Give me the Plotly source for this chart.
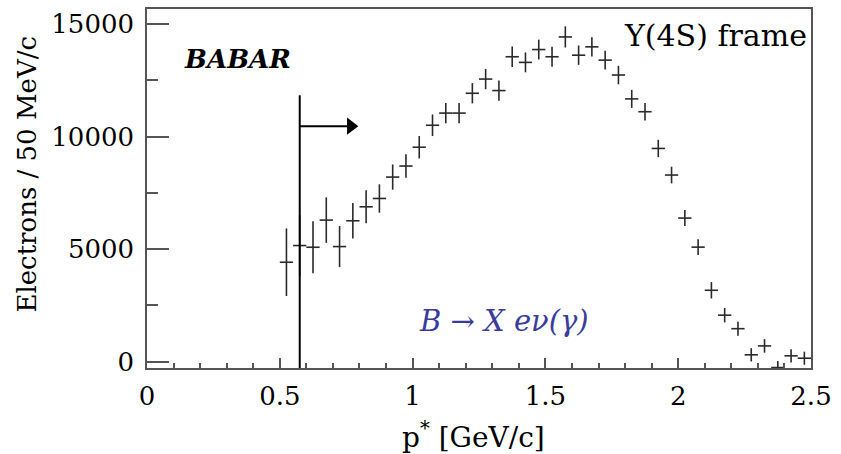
import plotly.graph_objects as go

# ---- data ----
p_star = [0.525, 0.575, 0.625, 0.675, 0.725, 0.775, 0.825, 0.875, 0.925, 0.975,
          1.025, 1.075, 1.125, 1.175, 1.225, 1.275, 1.325, 1.375, 1.425, 1.475,
          1.525, 1.575, 1.625, 1.675, 1.725, 1.775, 1.825, 1.875, 1.925, 1.975,
          2.025, 2.075, 2.125, 2.175, 2.225, 2.275, 2.325, 2.375, 2.425, 2.475]
electrons = [4420, 5160, 5085, 6290, 5115, 6260, 6880, 7250, 8200, 8690,
             9525, 10500, 11040, 11040, 11920, 12550, 12040, 13540, 13290, 13860,
             13540, 14420, 13610, 13980, 13390, 12730, 11670, 11100, 9470, 8290,
             6380, 5090, 3175, 2070, 1470, 310, 705, -255, 265, 160]
electron_err = [1500, 1360, 1150, 1010, 910, 790, 730, 630, 560, 520,
                500, 480, 450, 450, 450, 450, 450, 450, 440, 440,
                440, 470, 430, 430, 420, 410, 400, 390, 385, 370,
                355, 345, 365, 320, 310, 295, 300, 290, 295, 290]
bin_half_width = [0.025] * len(p_star)

x_tickvals = [0, 0.5, 1, 1.5, 2, 2.5]
x_ticktext = ["0", "0.5", "1", "1.5", "2", "2.5"]
y_tickvals = [0, 5000, 10000, 15000]
y_ticktext = ["0", "5000", "10000", "15000"]

cut_p = 0.575          # momentum cut
cut_line_top = 11830   # height of the cut line
arrow_level = 10460
arrow_tip = 0.80

FONT = "DejaVu Serif"

W, H = 841, 454
L, R, T, B = 147, 30, 7, 86
pw, ph = W - L - R, H - T - B
X_RANGE = [0, 2.5]
px_per_x = pw / (X_RANGE[1] - X_RANGE[0])

fig = go.Figure()
fig.add_trace(go.Scatter(
    x=p_star, y=electrons, mode="markers",
    marker=dict(size=1, color="rgba(0,0,0,0)"),
    error_y=dict(type="data", array=electron_err, width=0, thickness=1.6, color="#2a2a2a"),
    error_x=dict(type="data", array=bin_half_width, width=0, thickness=1.6, color="#2a2a2a"),
    showlegend=False, hoverinfo="skip",
))

# cut line
fig.add_shape(type="line", xref="x", yref="y", x0=cut_p, x1=cut_p,
              y0=-275, y1=cut_line_top, line=dict(color="black", width=2))
# arrow shaft
head_len_px = 12
fig.add_shape(type="line", xref="x", yref="y", x0=cut_p, x1=arrow_tip - head_len_px / px_per_x,
              y0=arrow_level, y1=arrow_level, line=dict(color="black", width=2))
# arrow head (triangle marker whose tip lands on arrow_tip)
head_size = 15
tip_offset_px = (head_size / 2) * 2 / 3 ** 0.5
fig.add_trace(go.Scatter(
    x=[arrow_tip - tip_offset_px / px_per_x], y=[arrow_level], mode="markers",
    marker=dict(symbol="triangle-right", size=head_size, color="black", line=dict(width=0)),
    showlegend=False, hoverinfo="skip", cliponaxis=False,
))


def px(xpix):
    return (xpix - L) / pw


def py(ypix):
    return (H - B - ypix) / ph


fig.add_annotation(x=px(237.5), y=py(57.5), xref="paper", yref="paper",
                   text="<b><i>BABAR</i></b>", showarrow=False,
                   font=dict(family=FONT, size=26, color="black"),
                   xanchor="center", yanchor="middle")
fig.add_annotation(x=px(809), y=py(34), xref="paper", yref="paper",
                   text="Υ(4S) frame", showarrow=False,
                   font=dict(family=FONT, size=30, color="black"),
                   xanchor="right", yanchor="middle")
fig.add_annotation(x=px(504), y=py(321), xref="paper", yref="paper",
                   text="<i>B → X eν(γ)</i>", showarrow=False,
                   font=dict(family=FONT, size=29, color="#3b3b9b"),
                   xanchor="center", yanchor="middle")
# axis titles
fig.add_annotation(x=px(27), y=py(173.5), xref="paper", yref="paper",
                   text="Electrons / 50 MeV/c", showarrow=False, textangle=-90,
                   font=dict(family=FONT, size=26, color="black"),
                   xanchor="center", yanchor="middle")
fig.add_annotation(x=px(473), y=py(436), xref="paper", yref="paper",
                   text="p<sup>*</sup> [GeV/c]", showarrow=False,
                   font=dict(family=FONT, size=28, color="black"),
                   xanchor="center", yanchor="middle")

axis_col = "#555555"
fig.update_layout(
    width=W, height=H,
    margin=dict(l=L, r=R, t=T, b=B, pad=0),
    paper_bgcolor="white", plot_bgcolor="white",
    font=dict(family=FONT, size=26, color="black"),
    xaxis=dict(range=X_RANGE, tickmode="array", tickvals=x_tickvals, ticktext=x_ticktext,
               ticks="inside", ticklen=10, tickwidth=1.5, tickcolor=axis_col,
               minor=dict(dtick=0.1, tick0=0, ticks="inside", ticklen=5, tickwidth=1.5, tickcolor=axis_col),
               showline=True, linecolor=axis_col, linewidth=1.5, mirror=True,
               showgrid=False, zeroline=False, ticklabelstandoff=4,
               tickfont=dict(family=FONT, size=26, color="black")),
    yaxis=dict(range=[-275, 15660], tickmode="array", tickvals=y_tickvals, ticktext=y_ticktext,
               ticks="inside", ticklen=22, tickwidth=1.5, tickcolor=axis_col,
               minor=dict(dtick=2500, tick0=0, ticks="inside", ticklen=11, tickwidth=1.5, tickcolor=axis_col),
               showline=True, linecolor=axis_col, linewidth=1.5, mirror=True,
               showgrid=False, zeroline=False, ticklabelstandoff=6,
               tickfont=dict(family=FONT, size=26, color="black")),
)

fig.write_html("out.html")
